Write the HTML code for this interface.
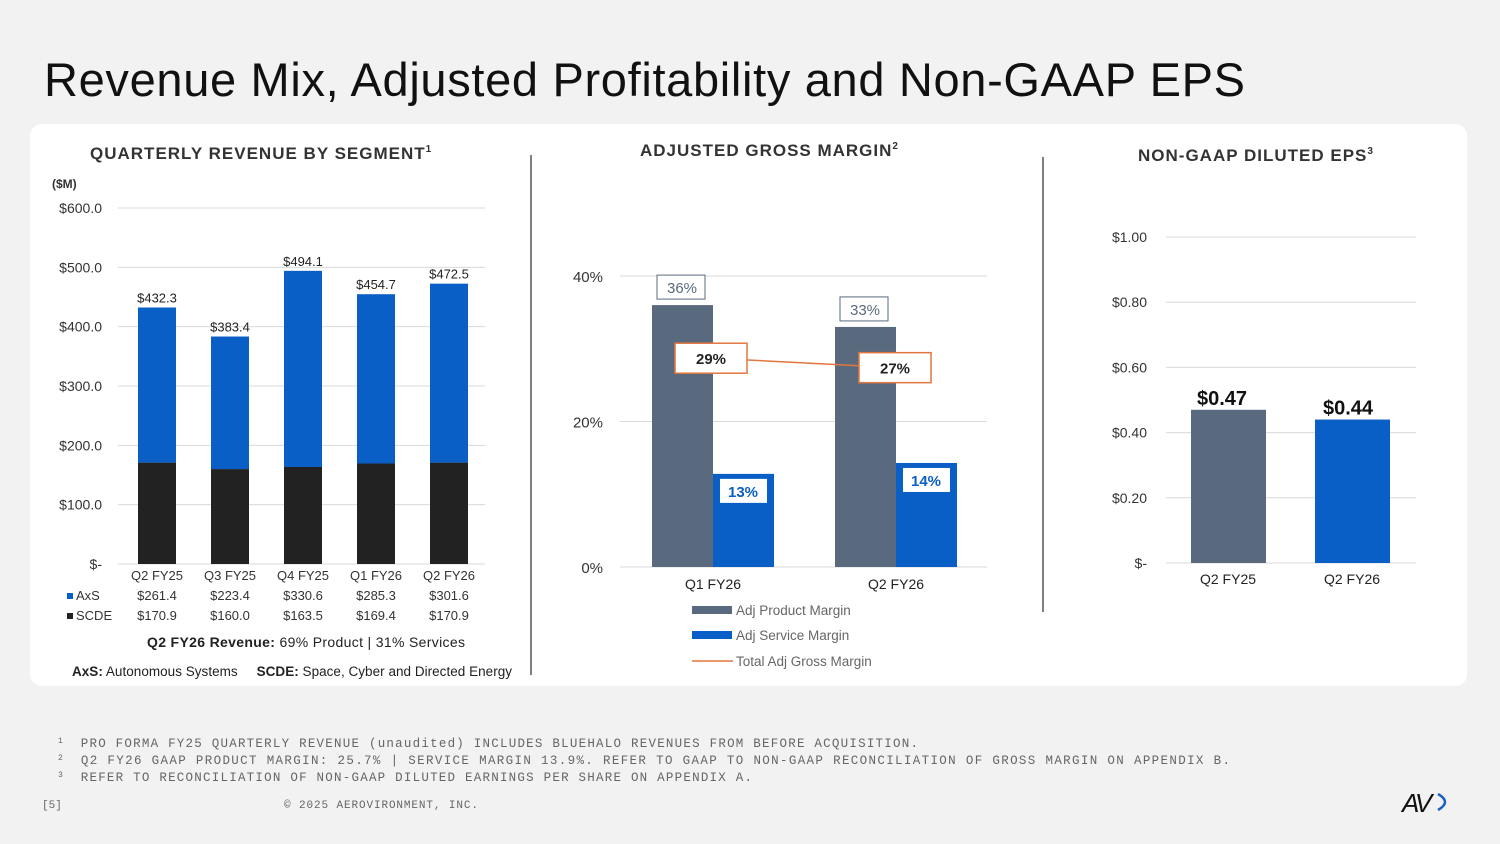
<!DOCTYPE html>
<html><head><meta charset="utf-8"><style>
html,body{margin:0;padding:0;width:1500px;height:844px;background:#f2f2f2;overflow:hidden;font-family:"Liberation Sans",sans-serif}
svg{position:absolute;left:0;top:0}
</style></head><body>
<svg id="s" width="1500" height="844" viewBox="0 0 1500 844">
<text x="44" y="96" font-size="47" fill="#111" textLength="1201">Revenue Mix, Adjusted Profitability and Non-GAAP EPS</text>
<rect x="30" y="124" width="1437" height="562" rx="12" fill="#fff"/>
<line x1="531" y1="155" x2="531" y2="675" stroke="#555" stroke-width="1.5"/>
<line x1="1043" y1="157" x2="1043" y2="612" stroke="#555" stroke-width="1.5"/>
<text x="90" y="159" font-size="17" font-weight="bold" fill="#333" letter-spacing="1">QUARTERLY REVENUE BY SEGMENT<tspan font-size="10" dy="-7">1</tspan></text>
<text x="640" y="156" font-size="17" font-weight="bold" fill="#333" letter-spacing="1">ADJUSTED GROSS MARGIN<tspan font-size="10" dy="-7">2</tspan></text>
<text x="1138" y="161" font-size="17" font-weight="bold" fill="#333" letter-spacing="1">NON-GAAP DILUTED EPS<tspan font-size="10" dy="-7">3</tspan></text>
<text x="52" y="188" font-size="12" font-weight="bold" fill="#333">($M)</text>
<g id="c1"></g><g id="c2"></g><g id="c3"></g>
<text x="147" y="647" font-size="14" fill="#222" textLength="318"><tspan font-weight="bold">Q2 FY26 Revenue:</tspan> 69% Product | 31% Services</text>
<text x="72" y="676" font-size="13.5" fill="#222" textLength="440"><tspan font-weight="bold">AxS:</tspan> Autonomous Systems &#160;&#160;&#160;&#160;<tspan font-weight="bold">SCDE:</tspan> Space, Cyber and Directed Energy</text>
<g font-family="Liberation Mono, monospace" font-size="12.5" fill="#666">
<text x="58" y="747"><tspan font-size="8" dy="-4">1</tspan><tspan dy="4" x="72" textLength="846"> PRO FORMA FY25 QUARTERLY REVENUE (unaudited) INCLUDES BLUEHALO REVENUES FROM BEFORE ACQUISITION.</tspan></text>
<text x="58" y="764"><tspan font-size="8" dy="-4">2</tspan><tspan dy="4" x="72" textLength="1158"> Q2 FY26 GAAP PRODUCT MARGIN: 25.7% | SERVICE MARGIN 13.9%.  REFER TO GAAP TO NON-GAAP RECONCILIATION OF GROSS MARGIN ON APPENDIX B.</tspan></text>
<text x="58" y="781"><tspan font-size="8" dy="-4">3</tspan><tspan dy="4" x="72" textLength="680"> REFER TO RECONCILIATION OF NON-GAAP DILUTED EARNINGS PER SHARE ON APPENDIX A.</tspan></text>
<text x="42" y="808" font-size="11">[5]</text>
<text x="284" y="808" font-size="11" textLength="194">© 2025 AEROVIRONMENT, INC.</text>
</g>
<g><text x="1402" y="812" font-size="26" font-style="italic" fill="#111" letter-spacing="-3">AV</text><path d="M1438 794 q14 8 0 16" stroke="#1a5fc4" stroke-width="2.5" fill="none"/></g>
</svg>
<script>
const NS="http://www.w3.org/2000/svg";
const revCats=["Q2 FY25","Q3 FY25","Q4 FY25","Q1 FY26","Q2 FY26"];
const axsVals=[261.4,223.4,330.6,285.3,301.6];
const scdeVals=[170.9,160.0,163.5,169.4,170.9];
const revTicks=[0,100,200,300,400,500,600];
const marginCats=["Q1 FY26","Q2 FY26"];
const productMargin=[36,33];
const serviceMargin=[12.8,14.3];
const totalMargin=[28.7,27.4];
const marginTicks=[0,20,40];
const epsCats=["Q2 FY25","Q2 FY26"];
const epsVals=[0.47,0.44];
const epsTicks=[0,0.2,0.4,0.6,0.8,1.0];
function el(p,t,a,txt){const e=document.createElementNS(NS,t);for(const k in a)e.setAttribute(k,a[k]);if(txt!==undefined)e.textContent=txt;p.appendChild(e);return e;}
// chart 1
const c1=document.getElementById('c1');
const y1=v=>564-v*(356/600), x1=i=>157+i*73;
revTicks.forEach(t=>{
 const g=el(c1,'line',{x1:118,x2:485,y1:y1(t),y2:y1(t),stroke:'#d9d9d9'});
 
 const l=el(c1,'text',{x:102,y:y1(t)+5,'font-size':14,fill:'#333','text-anchor':'end'},t===0?'$-':'$'+t.toFixed(1));
 
});
revCats.forEach((c,i)=>{
 const s=el(c1,'rect',{x:x1(i)-19,width:38,y:y1(scdeVals[i]),height:y1(0)-y1(scdeVals[i]),fill:'#222'});
 
 const tot=axsVals[i]+scdeVals[i];
 const a=el(c1,'rect',{x:x1(i)-19,width:38,y:y1(tot),height:y1(scdeVals[i])-y1(tot),fill:'#0a5fc7'});
 
 const tl=el(c1,'text',{x:x1(i),y:y1(tot)-5,'font-size':13,fill:'#222','text-anchor':'middle'},'$'+tot.toFixed(1));
 
 const cl=el(c1,'text',{x:x1(i),y:580,'font-size':13,fill:'#333','text-anchor':'middle'},c);
 
 const av=el(c1,'text',{x:x1(i),y:600,'font-size':13,fill:'#333','text-anchor':'middle'},'$'+axsVals[i].toFixed(1));
 
 const sv=el(c1,'text',{x:x1(i),y:620,'font-size':13,fill:'#333','text-anchor':'middle'},'$'+scdeVals[i].toFixed(1));
 
});
el(c1,'rect',{x:67,y:593,width:6,height:6,fill:'#0a5fc7'});
const la=el(c1,'text',{x:76,y:600,'font-size':13,fill:'#333'},'AxS');

el(c1,'rect',{x:67,y:613,width:6,height:6,fill:'#222'});
const ls=el(c1,'text',{x:76,y:620,'font-size':13,fill:'#333'},'SCDE');

// chart 2
const c2=document.getElementById('c2');
const y2=v=>567-v*(291/40), x2=i=>713+i*183;
marginTicks.forEach(t=>{
 const g=el(c2,'line',{x1:620,x2:987,y1:y2(t),y2:y2(t),stroke:'#d9d9d9'});
 
 const l=el(c2,'text',{x:603,y:y2(t)+6,'font-size':15,fill:'#333','text-anchor':'end'},t+'%');
 
});
marginCats.forEach((c,i)=>{
 const p=el(c2,'rect',{x:x2(i)-61,width:61,y:y2(productMargin[i]),height:y2(0)-y2(productMargin[i]),fill:'#5a6a7e'});
 
 const s=el(c2,'rect',{x:x2(i),width:61,y:y2(serviceMargin[i]),height:y2(0)-y2(serviceMargin[i]),fill:'#0a5fc7'});
 
 el(c2,'rect',{x:x2(i)-56,y:y2(productMargin[i])-30,width:48,height:24,fill:'#fff',stroke:'#5a6a7e'});
 const pl=el(c2,'text',{x:x2(i)-31,y:y2(productMargin[i])-12,'font-size':15,fill:'#5a6a7e','text-anchor':'middle'},Math.round(productMargin[i])+'%');
 
 el(c2,'rect',{x:x2(i)+7,y:y2(serviceMargin[i])+5,width:47,height:24,fill:'#fff'});
 const sl=el(c2,'text',{x:x2(i)+30,y:y2(serviceMargin[i])+23,'font-size':15,'font-weight':'bold',fill:'#0a5fc7','text-anchor':'middle'},Math.round(serviceMargin[i])+'%');
 
 const cl=el(c2,'text',{x:x2(i),y:589,'font-size':14,fill:'#222','text-anchor':'middle'},c);
 
});
const tl=el(c2,'line',{x1:x2(0),y1:y2(totalMargin[0]),x2:x2(1),y2:y2(totalMargin[1]),stroke:'#e2763f','stroke-width':1.5});

totalMargin.forEach((v,i)=>{
 const cx=x2(i)+(i===0?-2:-1);
 el(c2,'rect',{x:cx-36,y:y2(v)-15,width:72,height:30,fill:'#fff',stroke:'#e2763f','stroke-width':1.5});
 const t=el(c2,'text',{x:cx,y:y2(v)+6,'font-size':15,'font-weight':'bold',fill:'#222','text-anchor':'middle'},Math.round(v)+'%');
 
});
[['Adj Product Margin','#5a6a7e',610,'bar'],['Adj Service Margin','#0a5fc7',635,'bar'],['Total Adj Gross Margin','#e2763f',661,'line']].forEach(l=>{
 if(l[3]==='bar')el(c2,'rect',{x:692,y:l[2]-4,width:40,height:8,fill:l[1]});
 else el(c2,'line',{x1:692,x2:733,y1:l[2],y2:l[2],stroke:l[1],'stroke-width':1.5});
 const t=el(c2,'text',{x:736,y:l[2]+5,'font-size':13.5,fill:'#666'},l[0]);
 
});
// chart 3
const c3=document.getElementById('c3');
const y3=v=>563-v*326, x3=i=>1228+i*124;
epsTicks.forEach(t=>{
 const g=el(c3,'line',{x1:1166,x2:1416,y1:y3(t),y2:y3(t),stroke:'#d9d9d9'});
 
 const l=el(c3,'text',{x:1147,y:y3(t)+5,'font-size':14,fill:'#333','text-anchor':'end'},t===0?'$-':'$'+t.toFixed(2));
 
});
const epsCols=['#5a6a7e','#0a5fc7'];
epsCats.forEach((c,i)=>{
 const b=el(c3,'rect',{x:x3(i)-37,width:75,y:y3(epsVals[i]),height:y3(0)-y3(epsVals[i]),fill:epsCols[i]});
 
 const v=el(c3,'text',{x:x3(i)-6+i*2,y:y3(epsVals[i])-5,'font-size':20,'font-weight':'bold',fill:'#111','text-anchor':'middle'},'$'+epsVals[i].toFixed(2));
 
 const cl=el(c3,'text',{x:x3(i),y:584,'font-size':14,fill:'#222','text-anchor':'middle'},c);
 
});
</script>
</body></html>
